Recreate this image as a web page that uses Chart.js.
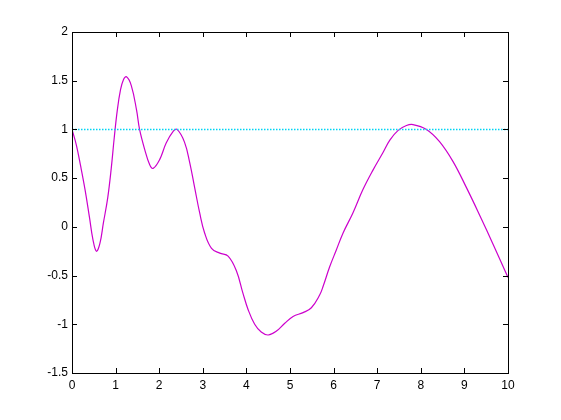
<!DOCTYPE html>
<html>
<head>
<meta charset="utf-8">
<script src="https://cdn.jsdelivr.net/npm/chart.js@4/dist/chart.umd.min.js"></script>
<style>
  html, body { margin: 0; padding: 0; background: #fff; }
  #wrap { width: 561px; height: 420px; }
</style>
</head>
<body>
<div id="wrap"><canvas id="plot" width="561" height="420"></canvas></div>
<script>
// ---------- Data ----------
const curveX = [
  0, 0.1, 0.2, 0.3, 0.4, 0.48, 0.56, 0.64, 0.72, 0.82, 0.9, 0.97, 1.04, 1.11, 1.18, 1.25, 1.36,
  1.48, 1.55, 1.67, 1.78, 1.86, 2.01, 2.16, 2.32, 2.41, 2.58, 2.7, 2.81, 2.93,
  3.04, 3.2, 3.39, 3.58, 3.77, 3.92, 4.04, 4.19, 4.34, 4.5, 4.69, 4.88, 5.07,
  5.3, 5.49, 5.68, 5.76, 5.91, 6.06, 6.22, 6.44, 6.67, 6.9, 7.13, 7.29, 7.48,
  7.67, 7.82, 8.13, 8.43, 8.74, 9.05, 9.35, 9.66, 10
];
const curveY = [
  1.0, 0.84, 0.62, 0.38, 0.1, -0.13, -0.25, -0.17, 0.04, 0.3, 0.6, 0.92, 1.2, 1.4, 1.51, 1.54, 1.45,
  1.2, 1.0, 0.79, 0.64, 0.6, 0.69, 0.86, 0.98, 1.0, 0.87, 0.66, 0.41, 0.14,
  -0.06, -0.22, -0.27, -0.3, -0.45, -0.68, -0.85, -1.0, -1.08, -1.11, -1.07, -0.99, -0.92,
  -0.88, -0.83, -0.7, -0.61, -0.41, -0.24, -0.06, 0.14, 0.38, 0.58, 0.76, 0.89, 0.99,
  1.04, 1.05, 1.0, 0.875, 0.67, 0.4, 0.12, -0.18, -0.52
];
const refX = [0, 10];
const refY = [1, 1];

const xMin = 0, xMax = 10, xStep = 1;
const yMin = -1.5, yMax = 2, yStep = 0.5;

// ---------- Frame with inward ticks on all four sides ----------
const boxTicks = {
  id: "boxTicks",
  afterDraw(chart) {
    const { ctx, chartArea: a, scales } = chart;
    const len = 5;
    ctx.save();
    ctx.strokeStyle = "#000";
    ctx.lineWidth = 1;
    ctx.strokeRect(Math.round(a.left) + 0.5, Math.round(a.top) + 0.5,
      Math.round(a.right - a.left), Math.round(a.bottom - a.top));
    ctx.beginPath();
    scales.x.ticks.forEach((t) => {
      const px = Math.round(scales.x.getPixelForValue(t.value)) + 0.5;
      ctx.moveTo(px, a.bottom); ctx.lineTo(px, a.bottom - len);
      ctx.moveTo(px, a.top); ctx.lineTo(px, a.top + len);
    });
    scales.y.ticks.forEach((t) => {
      const py = Math.round(scales.y.getPixelForValue(t.value)) + 0.5;
      ctx.moveTo(a.left, py); ctx.lineTo(a.left + len, py);
      ctx.moveTo(a.right, py); ctx.lineTo(a.right - len, py);
    });
    ctx.stroke();
    ctx.restore();
  }
};

const tickFont = { family: "'Liberation Sans', Arial, sans-serif", size: 12 };
const plainNumber = (v) => String(Number(v.toFixed(2)));

new Chart(document.getElementById("plot"), {
  type: "line",
  data: {
    datasets: [
      {
        data: refX.map((x, i) => ({ x, y: refY[i] })),
        borderColor: "#00d4f4",
        borderWidth: 1.5,
        borderDash: [1.5, 1.5],
        pointRadius: 0,
        fill: false
      },
      {
        data: curveX.map((x, i) => ({ x, y: curveY[i] })),
        borderColor: "#cc00cc",
        borderWidth: 1.2,
        pointRadius: 0,
        tension: 0.4,
        fill: false
      }
    ]
  },
  options: {
    responsive: false,
    animation: false,
    devicePixelRatio: 1,
    layout: { padding: { top: 32, right: 53, left: 0, bottom: 0 } },
    plugins: { legend: { display: false }, tooltip: { enabled: false } },
    scales: {
      x: {
        type: "linear",
        min: xMin, max: xMax,
        grid: { display: false, drawTicks: false },
        border: { display: false },
        ticks: { stepSize: xStep, color: "#000", font: tickFont, padding: 5, maxRotation: 0, callback: plainNumber },
        afterFit: (s) => { s.height = 47; }
      },
      y: {
        type: "linear",
        min: yMin, max: yMax,
        grid: { display: false, drawTicks: false },
        border: { display: false },
        ticks: { stepSize: yStep, color: "#000", font: tickFont, padding: 4, callback: plainNumber },
        afterFit: (s) => { s.width = 72; }
      }
    }
  },
  plugins: [boxTicks]
});
</script>
</body>
</html>
